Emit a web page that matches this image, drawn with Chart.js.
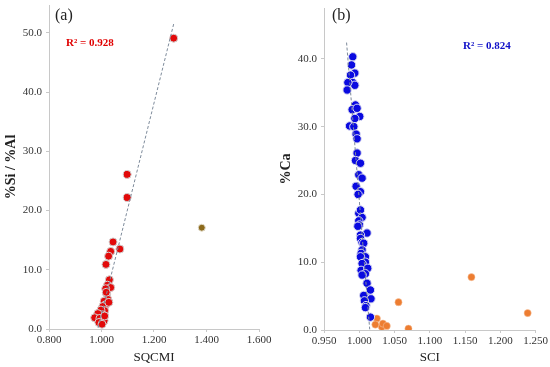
<!DOCTYPE html>
<html>
<head>
<meta charset="utf-8">
<script src="https://cdn.jsdelivr.net/npm/chart.js@4.4.1/dist/chart.umd.min.js"></script>
<style>
  html, body { margin: 0; padding: 0; background: #fff; }
  #wrap { position: relative; width: 550px; height: 367px; }
  .panel { position: absolute; top: 0; width: 275px; height: 367px; }
  #panelA { left: 0; }
  #panelB { left: 275px; }
</style>
</head>
<body>
<div id="wrap">
  <div class="panel" id="panelA"><canvas id="chartA"></canvas></div>
  <div class="panel" id="panelB"><canvas id="chartB"></canvas></div>
</div>
<script>
// panel (a): SQCMI vs %Si/%Al
const sqcmi = [1.275, 1.098, 1.098, 1.044, 1.070, 1.035, 1.027, 1.017, 1.030, 1.023,
  1.035, 1.016, 1.020, 1.024, 1.010, 1.016, 1.005, 1.012, 0.998, 1.004,
  0.986, 0.974, 0.994, 0.998, 1.010, 0.990, 1.012, 1.002, 1.018, 1.028];
const siAl = [49.1, 26.1, 22.2, 14.7, 13.5, 13.1, 12.3, 10.9, 8.3, 7.4,
  7.0, 6.8, 5.9, 5.0, 4.7, 4.1, 3.8, 3.1, 3.2, 2.4,
  2.6, 1.9, 1.8, 1.2, 1.4, 1.1, 2.2, 0.8, 6.2, 4.5];
const outlierSqcmi = [1.382];
const outlierSiAl = [17.1];
const trendASqcmi = [0.987, 1.275];
const trendASiAl = [0.2, 51.5];
const xTicksA = [0.8, 1.0, 1.2, 1.4, 1.6];
const yTicksA = [0, 10, 20, 30, 40, 50];

// panel (b): SCI vs %Ca
const sci = [0.9908, 0.9890, 0.9937, 0.9876, 0.9908, 0.9937, 0.9838, 0.9828, 0.9946, 0.9899,
  0.9969, 1.0007, 0.9937, 0.9862, 0.9923, 0.9955, 0.9969, 0.9969, 0.9946, 1.0017,
  0.9993, 1.0040, 0.9955, 1.0017, 0.9983, 0.9993, 1.0017, 1.0040, 0.9993, 1.0003,
  0.9980, 1.0110, 1.0017, 1.0017, 1.0040, 1.0063, 1.0040, 1.0026, 1.0087, 1.0017,
  1.0087, 1.0040, 1.0026, 1.0120, 1.0087, 1.0040, 1.0110, 1.0158, 1.0087, 1.0166,
  1.0063, 1.0073, 1.0096, 1.0087, 1.0158];
const ca = [40.3, 39.1, 37.9, 37.6, 36.5, 36.1, 36.5, 35.4, 33.2, 32.5,
  32.7, 31.5, 31.2, 30.1, 30.0, 28.9, 28.2, 26.1, 25.0, 24.6,
  22.9, 22.4, 21.2, 20.4, 20.0, 17.2, 17.7, 16.6, 16.1, 15.5,
  15.3, 14.3, 14.0, 13.5, 12.9, 12.8, 11.8, 11.3, 10.8, 10.8,
  10.0, 9.8, 8.8, 9.1, 8.3, 8.1, 6.9, 5.9, 4.9, 4.6,
  5.1, 4.3, 3.6, 3.3, 1.9];
const otherSci = [1.0556, 1.159, 1.2387, 1.0697, 1.025, 1.0228, 1.032, 1.0335, 1.039];
const otherCa = [4.1, 7.8, 2.5, 0.2, 1.7, 0.8, 0.45, 0.95, 0.6];
const trendBSci = [0.982, 1.0148];
const trendBCa = [42.4, 0.1];
const xTicksB = [0.95, 1.0, 1.05, 1.1, 1.15, 1.2, 1.25];
const yTicksB = [0, 10, 20, 30, 40];

const toPoints = (xs, ys) => xs.map((x, i) => ({ x: x, y: ys[i] }));

const axisGray = '#c8c8c8';
const serif = '"Liberation Serif", "Times New Roman", serif';
const tickFont = { family: serif, size: 11 };

const textPlugin = {
  id: 'panelText',
  afterDraw(chart, args, opts) {
    const ctx = chart.ctx;
    (opts.items || []).forEach(t => {
      ctx.save();
      ctx.font = t.font;
      ctx.fillStyle = t.color;
      ctx.textBaseline = 'middle';
      ctx.fillText(t.text, t.x, t.y);
      ctx.restore();
    });
  }
};

function makeScales(cfg) {
  return {
    x: {
      type: 'linear',
      min: cfg.xMin,
      max: cfg.xMax,
      afterBuildTicks: axis => { axis.ticks = cfg.xTicks.map(v => ({ value: v })); },
      afterFit: axis => { axis.height = 367 - cfg.bottom; },
      grid: { drawOnChartArea: false, color: axisGray, tickLength: 3 },
      border: { color: axisGray, width: 1 },
      ticks: {
        color: '#333',
        font: tickFont,
        padding: 2,
        maxRotation: 0,
        callback: v => v.toFixed(3)
      },
      title: {
        display: true,
        text: cfg.xTitle,
        color: '#222',
        font: { family: serif, size: 13 },
        padding: { top: 0, bottom: 2 }
      }
    },
    y: {
      type: 'linear',
      min: 0,
      max: cfg.yMax,
      afterBuildTicks: axis => { axis.ticks = cfg.yTicks.map(v => ({ value: v })); },
      afterFit: axis => {
        axis.width = 49;
        axis.paddingTop = 0;
        axis.paddingBottom = 0;
      },
      grid: { drawOnChartArea: false, color: axisGray, tickLength: 3 },
      border: { color: axisGray, width: 1 },
      ticks: {
        color: '#333',
        font: tickFont,
        padding: 4,
        callback: v => v.toFixed(1)
      },
      title: {
        display: true,
        text: cfg.yTitle,
        color: '#222',
        font: { family: serif, size: 14, weight: 'bold' },
        padding: { top: 3, bottom: 0 }
      }
    }
  };
}

new Chart(document.getElementById('chartA'), {
  type: 'scatter',
  data: {
    datasets: [
      {
        type: 'line',
        data: toPoints(trendASqcmi, trendASiAl),
        borderColor: '#7d8a9a',
        borderWidth: 1,
        borderDash: [3, 2],
        pointRadius: 0
      },
      {
        data: toPoints(sqcmi, siAl),
        backgroundColor: '#e20a0a',
        borderColor: '#d2d2d2',
        borderWidth: 1,
        pointRadius: 4
      },
      {
        data: toPoints(outlierSqcmi, outlierSiAl),
        backgroundColor: '#8c6a1c',
        borderColor: '#e2dccb',
        borderWidth: 1,
        pointRadius: 3.5
      }
    ]
  },
  options: {
    responsive: true,
    maintainAspectRatio: false,
    animation: false,
    layout: { padding: { left: 0, right: 16, top: 5, bottom: 0 } },
    plugins: {
      legend: { display: false },
      tooltip: { enabled: false },
      panelText: {
        items: [
          { text: '(a)', x: 55, y: 16, font: '16px ' + serif, color: '#222' },
          { text: 'R² = 0.928', x: 66, y: 43, font: 'bold 11px ' + serif, color: '#e00000' }
        ]
      }
    },
    scales: makeScales({
      xMin: 0.8, xMax: 1.6, xTicks: xTicksA, xTitle: 'SQCMI',
      yMax: 54.7, yTicks: yTicksA, yTitle: '%Si / %Al', bottom: 329
    })
  },
  plugins: [textPlugin]
});

new Chart(document.getElementById('chartB'), {
  type: 'scatter',
  data: {
    datasets: [
      {
        type: 'line',
        data: toPoints(trendBSci, trendBCa),
        borderColor: '#7d8a9a',
        borderWidth: 1,
        borderDash: [3, 2],
        pointRadius: 0
      },
      {
        data: toPoints(sci, ca),
        backgroundColor: '#0a0ae0',
        borderColor: '#dcdcf0',
        borderWidth: 1,
        pointRadius: 4.2
      },
      {
        data: toPoints(otherSci, otherCa),
        backgroundColor: '#ed7d31',
        borderColor: '#f6c8a8',
        borderWidth: 0.5,
        pointRadius: 3.6
      }
    ]
  },
  options: {
    responsive: true,
    maintainAspectRatio: false,
    animation: false,
    layout: { padding: { left: 0, right: 12, top: 8, bottom: 0 } },
    plugins: {
      legend: { display: false },
      tooltip: { enabled: false },
      panelText: {
        items: [
          { text: '(b)', x: 57, y: 16, font: '16px ' + serif, color: '#222' },
          { text: 'R² = 0.824', x: 188, y: 46, font: 'bold 11px ' + serif, color: '#1010c8' }
        ]
      }
    },
    scales: makeScales({
      xMin: 0.95, xMax: 1.25, xTicks: xTicksB, xTitle: 'SCI',
      yMax: 47.5, yTicks: yTicksB, yTitle: '%Ca', bottom: 330
    })
  },
  plugins: [textPlugin]
});
</script>
</body>
</html>
